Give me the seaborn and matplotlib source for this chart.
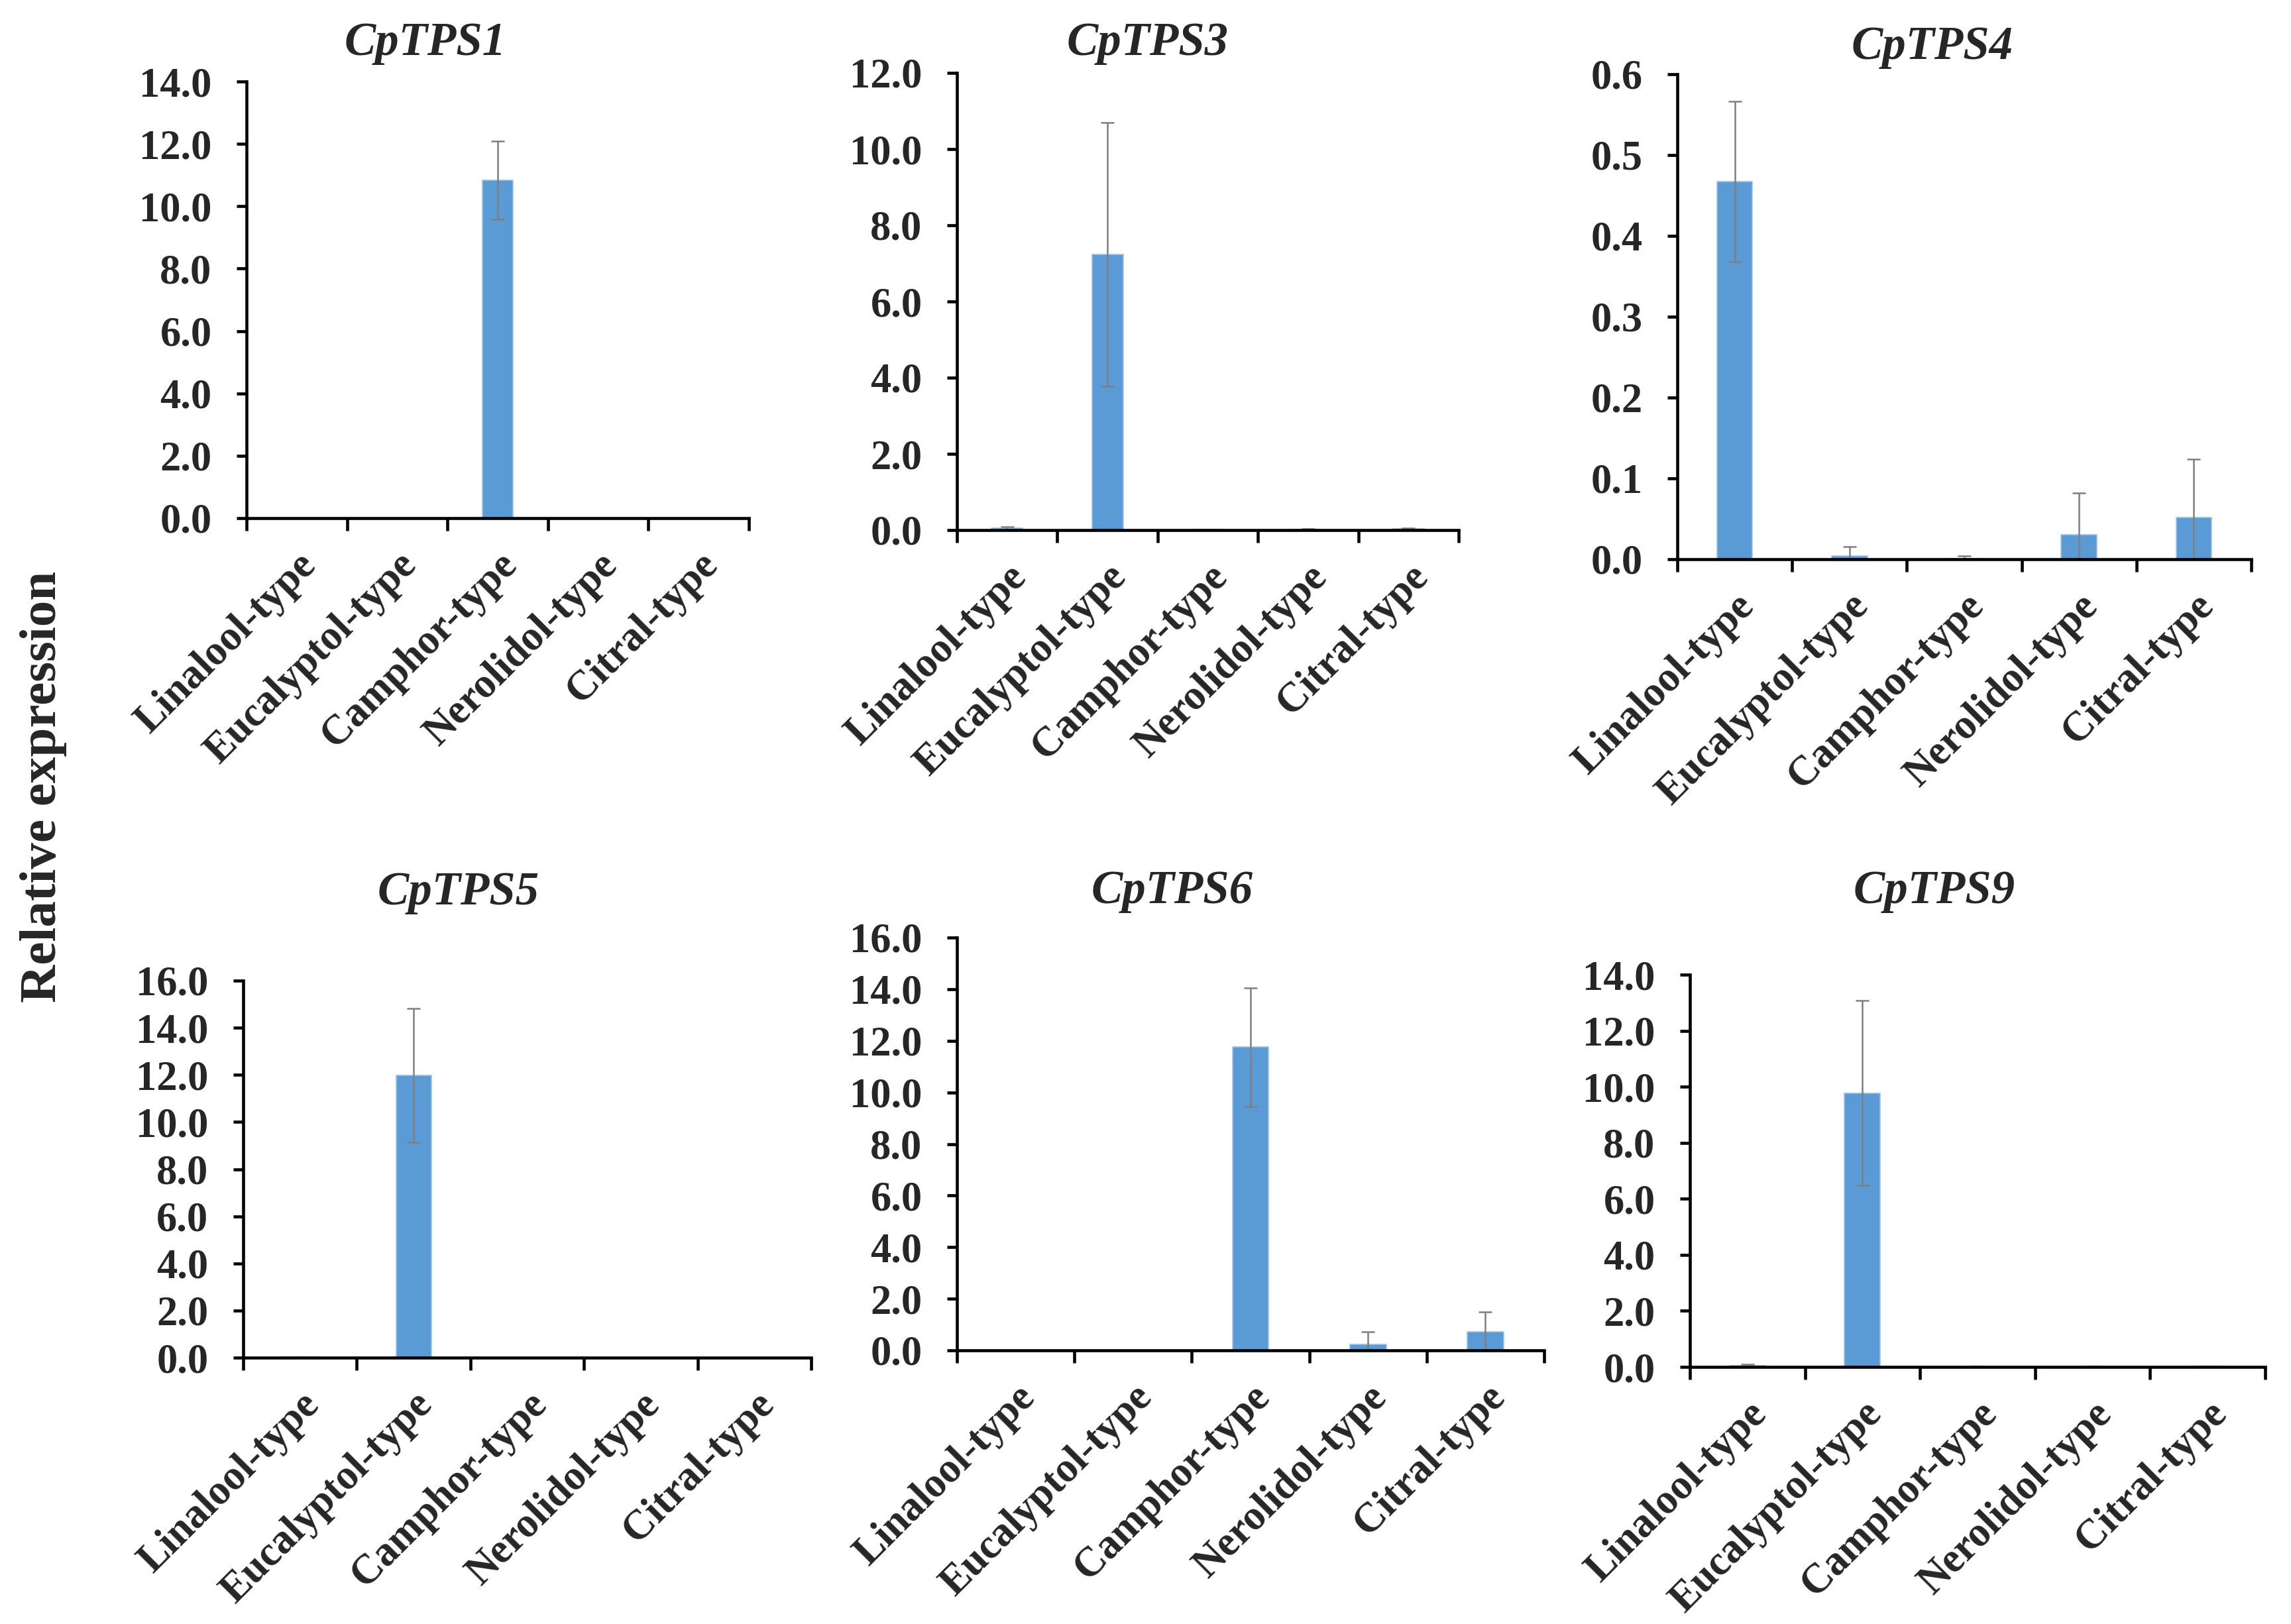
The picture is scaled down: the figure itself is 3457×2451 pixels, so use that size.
import matplotlib
matplotlib.use("Agg")
import matplotlib.pyplot as plt
from matplotlib.ticker import FormatStrFormatter
import numpy as np
import pandas as pd
import seaborn as sns

# Data
types = ["Linalool-type", "Eucalyptol-type", "Camphor-type", "Nerolidol-type", "Citral-type"]
genes = ["CpTPS1", "CpTPS3", "CpTPS4", "CpTPS5", "CpTPS6", "CpTPS9"]

tps1_mean = [0.0, 0.0, 10.83, 0.0, 0.0]
tps1_err = [0.0, 0.0, 1.25, 0.0, 0.0]

tps3_mean = [0.05, 7.23, 0.01, 0.02, 0.03]
tps3_err = [0.03, 3.46, 0.01, 0.01, 0.02]

tps4_mean = [0.467, 0.0044, 0.001, 0.030, 0.052]
tps4_err = [0.099, 0.011, 0.003, 0.052, 0.072]

tps5_mean = [0.02, 11.98, 0.0, 0.0, 0.0]
tps5_err = [0.01, 2.83, 0.0, 0.0, 0.0]

tps6_mean = [0.0, 0.0, 11.75, 0.24, 0.73]
tps6_err = [0.0, 0.0, 2.30, 0.49, 0.77]

tps9_mean = [0.05, 9.77, 0.01, 0.01, 0.02]
tps9_err = [0.05, 3.30, 0.01, 0.01, 0.01]

y_max = [14, 12, 0.6, 16, 16, 14]
y_step = [2, 2, 0.1, 2, 2, 2]

means = [tps1_mean, tps3_mean, tps4_mean, tps5_mean, tps6_mean, tps9_mean]
errs = [tps1_err, tps3_err, tps4_err, tps5_err, tps6_err, tps9_err]

# layout in pixels: (left, right, top, bottom) of each plot area, and title centre
W, H = 3457, 2451
boxes = [(372, 1130, 123, 782), (1444, 2201, 110, 800), (2531, 3397, 112, 844),
         (367, 1224, 1480, 2049), (1444, 2330, 1415, 2038), (2550, 3418, 1471, 2063)]
title_pos = [(642, 66), (1732, 66), (2916, 71), (692, 1348), (1769, 1346), (2919, 1346)]

sns.set_style("ticks")
plt.rcParams["font.family"] = ["Liberation Serif", "DejaVu Serif"]
plt.rcParams["font.weight"] = "bold"

fig = plt.figure(figsize=(W / 300, H / 300), dpi=300)

for i in range(6):
    l, r, t, b = boxes[i]
    ax = fig.add_axes([l / W, 1 - b / H, (r - l) / W, (b - t) / H])
    df = pd.DataFrame({"type": types, "value": means[i]})
    sns.barplot(data=df, x="type", y="value", color="#5B9BD5", saturation=1,
                width=0.31, errorbar=None, edgecolor="#9DC3E6", linewidth=0.4, ax=ax)
    idx = [k for k in range(5) if errs[i][k] > 0]
    ax.errorbar(idx, [means[i][k] for k in idx], yerr=[errs[i][k] for k in idx],
                fmt="none", ecolor="#7F7F7F", elinewidth=0.6, capsize=2.5, capthick=0.6)

    ax.set_xlim(-0.5, 4.5)
    ax.set_ylim(0, y_max[i])
    ax.set_yticks(np.arange(0, y_max[i] + y_step[i] / 2, y_step[i]))
    ax.yaxis.set_major_formatter(FormatStrFormatter("%.1f"))
    ax.set_xticks(range(5))
    ax.set_xticklabels(types, rotation=45, ha="right", rotation_mode="anchor",
                       fontsize=15, fontweight="bold")
    ax.set_xticks(np.arange(-0.5, 5, 1), minor=True)
    ax.tick_params(axis="x", which="major", length=0, pad=10)
    ax.tick_params(axis="x", which="minor", length=4.5, width=1.1, color="black", direction="out")
    ax.tick_params(axis="y", length=3.6, width=1.1, color="black", pad=9, labelsize=15)
    for lab in ax.get_yticklabels():
        lab.set_fontweight("bold")
    ax.set_xlabel("")
    ax.set_ylabel("")
    sns.despine(ax=ax)
    for s in ["left", "bottom"]:
        ax.spines[s].set_linewidth(1.1)
        ax.spines[s].set_color("black")

    tx, ty = title_pos[i]
    fig.text(tx / W, 1 - ty / H, genes[i], ha="center", va="center",
             fontsize=17, fontweight="bold", fontstyle="italic")

fig.text(66 / W, 1 - 1187 / H, "Relative expression", rotation=90,
         ha="center", va="center", fontsize=19, fontweight="bold")

fig.savefig("out.png", dpi=300)
